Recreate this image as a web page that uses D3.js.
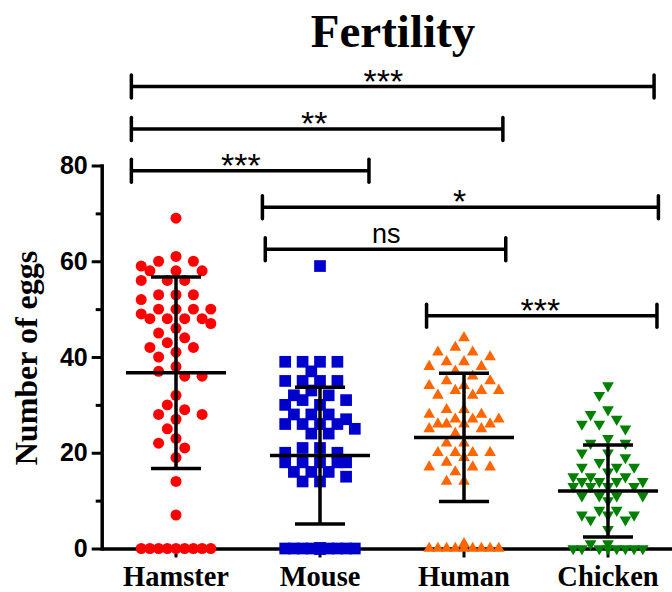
<!DOCTYPE html>
<html>
<head>
<meta charset="utf-8">
<script src="https://cdn.jsdelivr.net/npm/d3@7"></script>
<style>
  body { margin: 0; background: #fff; }
</style>
</head>
<body>
<div id="chart"></div>
<script>
const groups = ["Hamster", "Mouse", "Human", "Chicken"];

// egg counts per animal
const hamsterEggs = [69, 61, 60, 60, 59, 58, 58, 58, 56, 56, 56, 53, 53, 53, 52, 50, 50, 50, 50, 49,
  48, 48, 48, 48, 47, 46, 45, 44, 43, 42, 42, 41, 40, 38, 37, 36, 36, 32, 30, 29, 28, 28, 27, 25,
  23, 22, 21, 19, 14, 7, 0, 0, 0, 0, 0, 0, 0, 0, 0];
const mouseEggs = [59, 39, 39, 39, 39, 37, 35, 35, 35, 35, 33, 32, 32, 31, 31, 30, 30, 28, 28, 28,
  27, 26, 26, 26, 26, 25, 24, 24, 21, 21, 20, 20, 18, 18, 18, 18, 18, 16, 16, 16, 15, 14, 14,
  0, 0, 0, 0, 0, 0, 0, 0, 0, 0, 0, 0, 0, 0];
const humanEggs = [44, 42, 41, 41, 40, 39, 39, 38, 38, 37, 36, 35, 35, 34, 34, 33, 33, 33, 32, 32,
  29, 29, 28, 28, 27, 27, 27, 26, 26, 26, 26, 25, 25, 24, 22, 22, 20, 20, 20, 20, 19, 18, 17, 17,
  17, 16, 14, 14, 1, 0, 0, 0, 0, 0, 0, 0, 0, 0];
const chickenEggs = [34, 32, 29, 28, 27, 26, 26, 25, 23, 22, 22, 20, 20, 19, 18, 17, 17, 17, 16, 15,
  15, 15, 14, 14, 14, 14, 13, 13, 13, 13, 11, 11, 11, 11, 10, 8, 8, 7, 7, 7, 6, 6, 4, 1, 1,
  0, 0, 0, 0, 0, 0, 0, 0];

const groupMeans = [36.7, 19.4, 23.2, 12.0];
const groupSDs = [20.0, 14.3, 13.4, 9.6];

const yTicks = [0, 20, 40, 60, 80];
const yMinorTicks = [10, 30, 50, 70];

// significance brackets, ends in group-index units, height in eggs
const bracketLabels = ["***", "**", "***", "*", "ns", "***"];
const bracketFrom = [-0.31, -0.31, -0.31, 0.60, 0.62, 1.74];
const bracketTo = [3.32, 2.27, 1.34, 3.35, 2.29, 3.34];
const bracketLevel = [96.5, 87.6, 78.9, 71.3, 62.5, 48.6];
const bracketLabelAt = [1.44, 0.96, 0.45, 1.97, 1.46, 2.53];

const colors = ["#ff0000", "#0000cc", "#ff6600", "#008000"];
const allEggs = [hamsterEggs, mouseEggs, humanEggs, chickenEggs];

const width = 672, height = 592;
const serif = "'Liberation Serif', 'Times New Roman', serif";
const sans = "'Liberation Sans', Arial, sans-serif";

const svg = d3.select("#chart").append("svg")
  .attr("width", width)
  .attr("height", height);

const y = d3.scaleLinear().domain([0, 80]).range([548.5, 165.5]);
const x = d3.scaleBand().domain(groups).range([104, 680]).padding(0);
const xi = d3.scaleLinear().domain([0, 3]).range([176, 608]);

// title
svg.append("text")
  .attr("x", 393)
  .attr("y", 47)
  .attr("text-anchor", "middle")
  .style("font-family", serif)
  .style("font-weight", "bold")
  .style("font-size", "47px")
  .text("Fertility");

// y axis
const yAxis = svg.append("g")
  .attr("transform", "translate(101.7,0)")
  .call(d3.axisLeft(y).tickValues(yTicks).tickSize(10).tickSizeOuter(0).tickPadding(4));
yAxis.select(".domain").attr("stroke-width", 3.5).attr("stroke-linecap", "square");
yAxis.selectAll(".tick line").attr("stroke-width", 3);
yAxis.selectAll("text")
  .style("font-family", sans)
  .style("font-weight", "bold")
  .style("font-size", "25px");

const yMinor = svg.append("g")
  .attr("transform", "translate(101.7,0)")
  .call(d3.axisLeft(y).tickValues(yMinorTicks).tickSize(6).tickFormat(""));
yMinor.select(".domain").remove();
yMinor.selectAll(".tick line").attr("stroke-width", 3);

svg.append("text")
  .attr("transform", "rotate(-90)")
  .attr("x", -358)
  .attr("y", 37)
  .attr("text-anchor", "middle")
  .style("font-family", serif)
  .style("font-weight", "bold")
  .style("font-size", "32px")
  .text("Number of eggs");

// x axis
const xAxis = svg.append("g")
  .attr("transform", `translate(0,${y(0)})`)
  .call(d3.axisBottom(x).tickSize(9).tickSizeOuter(0));
xAxis.select(".domain").attr("stroke-width", 3.5).attr("stroke-linecap", "square");
xAxis.selectAll(".tick line").attr("stroke-width", 3);
xAxis.selectAll("text")
  .attr("y", 37)
  .attr("dy", 0)
  .style("font-family", serif)
  .style("font-weight", "bold")
  .style("font-size", "28.5px");

// simple beeswarm: step out sideways in half columns until the point fits
function swarm(values, cx) {
  const step = 8.7, diam = 11, maxK = 4;
  const order = values.map((v, i) => i).sort((a, b) => values[b] - values[a]);
  const placed = [];
  order.forEach(i => {
    const py = y(values[i]);
    let best = cx, bestGap = -1;
    for (let k = 0; k <= 2 * maxK; k++) {
      const m = k === 0 ? 0 : (k % 2 ? -Math.ceil(k / 2) : k / 2);
      const px = cx + m * step;
      let gap = Infinity;
      placed.forEach(p => { gap = Math.min(gap, Math.hypot(p.x - px, p.y - py)); });
      if (gap >= diam) { best = px; break; }
      if (gap > bestGap) { bestGap = gap; best = px; }
    }
    placed.push({ x: best, y: py });
  });
  return placed;
}

const shapes = [
  d3.symbol().type(d3.symbolCircle).size(95),
  d3.symbol().type(d3.symbolSquare).size(137),
  d3.symbol().type(d3.symbolTriangle).size(59),
  d3.symbol().type(d3.symbolTriangle).size(59)
];

groups.forEach((grp, gi) => {
  const cx = x(grp) + x.bandwidth() / 2;
  const pts = swarm(allEggs[gi], cx);
  svg.append("g")
    .selectAll("path")
    .data(pts)
    .enter()
    .append("path")
    .attr("d", shapes[gi]())
    .attr("transform", d => `translate(${d.x},${d.y})` + (gi === 3 ? " rotate(180)" : ""))
    .attr("fill", colors[gi]);
});

// mean +/- SD
groups.forEach((grp, gi) => {
  const cx = x(grp) + x.bandwidth() / 2;
  const m = groupMeans[gi], s = groupSDs[gi];
  const eb = svg.append("g")
    .attr("stroke", "#000")
    .attr("stroke-width", 3.5);
  eb.append("line")
    .attr("x1", cx).attr("x2", cx)
    .attr("y1", y(m - s)).attr("y2", y(m + s));
  eb.append("line")
    .attr("x1", cx - 50).attr("x2", cx + 50)
    .attr("y1", y(m)).attr("y2", y(m));
  [m - s, m + s].forEach(v => {
    eb.append("line")
      .attr("x1", cx - 25).attr("x2", cx + 25)
      .attr("y1", y(v)).attr("y2", y(v));
  });
});

// significance brackets
bracketLabels.forEach((lab, i) => {
  const by = y(bracketLevel[i]);
  const x1 = xi(bracketFrom[i]), x2 = xi(bracketTo[i]);
  const b = svg.append("g")
    .attr("stroke", "#000")
    .attr("stroke-width", 3.5);
  b.append("line").attr("x1", x1).attr("x2", x2).attr("y1", by).attr("y2", by);
  [x1, x2].forEach(ex => {
    b.append("line")
      .attr("x1", ex).attr("x2", ex)
      .attr("y1", by - 11.5).attr("y2", by + 11.5)
      .attr("stroke-linecap", "round");
  });
  const isStar = lab[0] === "*";
  svg.append("text")
    .attr("x", xi(bracketLabelAt[i]))
    .attr("y", isStar ? by + 6 : by - 6)
    .attr("text-anchor", "middle")
    .style("font-family", sans)
    .style("font-size", isStar ? "34px" : "27px")
    .text(lab);
});
</script>
</body>
</html>
